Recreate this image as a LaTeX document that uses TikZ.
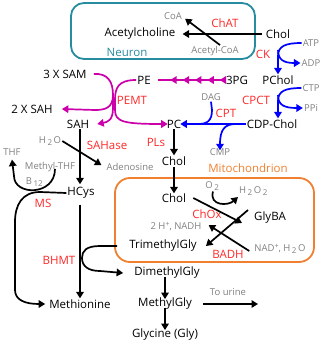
\documentclass[tikz,border=0pt]{standalone}
\usepackage{fontspec}
\setmainfont{Open Sans}
\usetikzlibrary{arrows.meta,decorations.markings}
\definecolor{cred}{RGB}{255,40,40}
\definecolor{cgray}{RGB}{128,128,128}
\definecolor{cmag}{RGB}{204,0,170}
\definecolor{cblue}{RGB}{0,0,255}
\definecolor{cteal}{RGB}{40,140,160}
\definecolor{corange}{RGB}{240,128,48}
\newcommand\lowsub[1]{\,\raisebox{-0.35ex}{\fontsize{8}{8}\selectfont #1}\,}
\newcommand\upsup[1]{\raisebox{0.6ex}{\fontsize{7}{7}\selectfont #1}}
\begin{document}
\begin{tikzpicture}[x=1pt,y=-1pt,
  mol/.style={inner sep=1pt,font=\fontsize{11.5}{12}\selectfont},
  cof/.style={inner sep=1pt,text=cgray,font=\fontsize{9.5}{10}\selectfont},
  enz/.style={inner sep=1pt,text=cred,font=\fontsize{11.5}{12}\selectfont},
  arr/.style={line width=1.7pt,-{Triangle[length=6.5pt,width=7.5pt]}},
  ln/.style={line width=1.7pt},
  barr/.style={arr,cblue},
  bln/.style={ln,cblue},
  marr/.style={arr,cmag},
  mln/.style={ln,cmag}]
\useasboundingbox (0,0) rectangle (330,351);
% compartments
\draw[cteal,line width=1.8pt,rounded corners=13pt] (71,3) rectangle (255,59);
\draw[corange,line width=1.8pt,rounded corners=15pt] (115,178) rectangle (314,262);
% nodes
\node[mol] (acetylcholine) at (140,34) {Acetylcholine};
\node[mol] (cholN) at (278,34) {Chol};
\node[cof] (coa) at (173,16) {CoA};
\node[cof] (acoa) at (215,51) {Acetyl-CoA};
\node[enz] (chat) at (225,23) {ChAT};
\node[inner sep=1pt,text=cteal,font=\fontsize{11.5}{12}\selectfont] (neuron) at (127,52) {Neuron};
\node[cof] (atp) at (311,43) {ATP};
\node[cof] (adp) at (311,63) {ADP};
\node[enz] (ck) at (263,54) {CK};
\node[mol] (sam3) at (65,74) {3 X SAM};
\node[mol] (pe) at (144,80) {PE};
\node[mol] (pg3) at (237,80) {3PG};
\node[mol] (pchol) at (278,80) {PChol};
\node[cof] (ctp) at (311,88) {CTP};
\node[cof] (ppi) at (311,108) {PPi};
\node[enz] (cpct) at (256,100) {CPCT};
\node[mol] (sah2) at (32,109) {2 X SAH};
\node[enz] (pemt) at (132,100) {PEMT};
\node[cof] (dag) at (211,97) {DAG};
\node[enz] (cpt) at (226,113) {CPT};
\node[mol] (sah) at (78,124) {SAH};
\node[mol] (pc) at (174,124) {PC};
\node[mol] (cdpchol) at (272,124) {CDP-Chol};
\node[cof] (h2o) at (50,141) {H\lowsub{2}O};
\node[enz] (sahase) at (107,145) {SAHase};
\node[enz] (pls) at (156,142) {PLs};
\node[cof] (cmp) at (220,152) {CMP};
\node[cof] (thf) at (12,152) {THF};
\node[cof] (methylthf) at (50,167) {Methyl-THF};
\node[cof] (adenosine) at (130,167) {Adenosine};
\node[mol] (chol2) at (174,161) {Chol};
\node[inner sep=1pt,text=corange,font=\fontsize{11.5}{12}\selectfont] (mito) at (248,168) {Mitochondrion};
\node[cof] (b12) at (35,182) {B\lowsub{12}};
\node[mol] (hcys) at (81,193) {HCys};
\node[enz] (ms) at (43,203) {MS};
\node[mol] (chol3) at (174,198) {Chol};
\node[cof] (o2) at (213,186) {O\lowsub{2}};
\node[cof] (h2o2) at (254,191) {H\lowsub{2}O\lowsub{2}};
\node[enz] (chox) at (207,214) {ChOx};
\node[mol] (glyba) at (270,218) {GlyBA};
\node[cof] (nadh) at (176,227) {2 H\upsup{+}, NADH};
\node[mol] (trimethylgly) at (163,246) {TrimethylGly};
\node[enz] (badh) at (228,254) {BADH};
\node[cof] (nad) at (280,249) {NAD\upsup{+}, H\lowsub{2}O};
\node[enz] (bhmt) at (59,260) {BHMT};
\node[mol] (dimethylgly) at (167,273) {DimethylGly};
\node[cof] (tourine) at (228,292) {To urine};
\node[mol] (methionine) at (80,304) {Methionine};
\node[mol] (methylgly) at (165,304) {MethylGly};
\node[mol] (glycine) at (165,335) {Glycine (Gly)};
\coordinate (urine) at (258,304);
% neuron
\draw[arr] ([xshift=-3pt]cholN.west) -- ([xshift=6pt]acetylcholine.east);
\draw[arr] ([xshift=5pt]acoa.north) -- ([xshift=2pt,yshift=2pt]coa.south east);
% CK and CPCT (blue)
\draw[barr] (atp.west) .. controls +(-16,0) and +(0,-10) .. (278,56) -- (pchol.north);
\draw[barr] (278,50) .. controls (278,60) and (284,63) .. (adp.west);
\draw[barr] (ctp.west) .. controls +(-16,0) and +(0,-10) .. (278,101) -- (pchol.south |- cdpchol.north);
\draw[barr] (278,95) .. controls (278,105) and (284,108) .. (ppi.west);
% CPT
\draw[barr] (cdpchol.west) -- ([xshift=-2pt]pc.east);
\draw[bln] (dag.south) -- (212,110) .. controls (212,121) and (207,124) .. (198,124);
\draw[barr] (236,124) .. controls (225,124) and (220,129) .. ([yshift=-3pt]cmp.north);
% PEMT (magenta)
\draw[mln] ([xshift=6pt]sam3.east) .. controls (108,73) and (113,82) .. (113,95);
\draw[marr] (113,95) .. controls (113,108) and (105,110) .. (95,110) -- ([xshift=8pt]sah2.east);
\draw[marr] (113,95) -- (113,108) .. controls (113,120) and (108,122) .. ([xshift=7pt]sah.east);
\draw[marr] (pe.west) .. controls (118,80) and (115,88) .. (115,100) -- (115,110) .. controls (115,122) and (124,124) .. ([xshift=2pt]pc.west);
\draw[cmag,line width=1.7pt,
  postaction={decorate},
  decoration={markings,mark=between positions 0.05 and 1 step 0.19 with {\arrow{Triangle[length=6.5pt,width=7.5pt]}}}]
  ([xshift=-2pt]pg3.west) -- ([xshift=6pt]pe.east);
% SAH -> HCys
\draw[arr] ([xshift=2pt]sah.south) -- ([yshift=2pt,xshift=-1pt]hcys.north);
\draw[arr] (h2o.east) -- ([xshift=-4pt,yshift=-3pt]adenosine.north west);
% PC -> Chol -> Chol
\draw[arr] (pc.south) -- (chol2.north);
\draw[arr] (chol2.south) -- ([yshift=-1pt]chol3.north);
% MS
\draw[arr] (hcys.west) -- (40,192) .. controls (22,192) and (15,205) .. (15,222) -- (15,290) .. controls (15,300) and (25,304) .. ([xshift=-3pt]methionine.west);
\draw[arr] ([xshift=5pt,yshift=4pt]methylthf.south) .. controls (55,196) and (14,196) .. (14,176) -- ([yshift=-3pt]thf.south);
% HCys -> Methionine
\draw[arr] ([yshift=-5pt,xshift=-1pt]hcys.south) -- ([xshift=0pt]methionine.north);
% BHMT
\draw[arr] ([xshift=-11pt]trimethylgly.west) -- (100,246) .. controls (86,246) and (82,251) .. (82,258) .. controls (82,266) and (88,271) .. (100,271) -- ([xshift=-10pt]dimethylgly.west);
% ChOx
\draw[arr] ([xshift=6pt]chol3.east) -- ([xshift=-11pt,yshift=-5pt]glyba.west);
\draw[arr] (o2.south) .. controls (209,206) and (228,206) .. (238,197);
% BADH
\draw[arr] ([xshift=-5pt,yshift=8pt]glyba.west) -- ([xshift=8pt]trimethylgly.east);
\draw[arr] ([xshift=-4pt,yshift=-2pt]nad.west) -- ([xshift=6pt,yshift=2pt]nadh.east);
% Gly chain
\draw[arr] ([xshift=-2pt,yshift=3pt]dimethylgly.south) -- ([yshift=-2pt]methylgly.north);
\draw[arr] ([yshift=3pt]methylgly.south) -- ([yshift=-2pt]glycine.north);
\draw[arr] ([xshift=10pt]methylgly.east) -- (urine);
\end{tikzpicture}
\end{document}
